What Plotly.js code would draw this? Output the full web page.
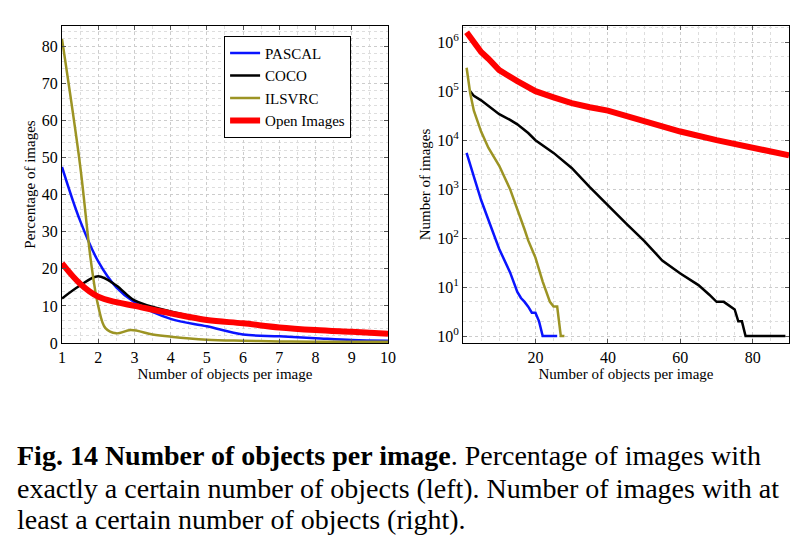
<!DOCTYPE html>
<html><head><meta charset="utf-8">
<script src="https://cdn.plot.ly/plotly-3.0.1.min.js"></script>
<style>body{margin:0;background:#fff}#c{width:809px;height:550px}</style>
</head><body><div id="c"></div>
<script>
// Left: percentage of images
const pascalX=[1,1.5,2,2.5,3,4,5,6,7,8,9,10];
const pascalY=[47.5,33,22,15,11,6.5,4.5,2.3,1.8,1.3,0.8,0.6];
const cocoX=[1,1.5,2,2.5,3,4,5,6,7,8,9,10];
const cocoY=[12,15.5,18,15.5,11.5,8.5,6.5,5.3,4.2,3.4,2.9,2.5];
const ilsX=[1,1.5,1.8,2,2.2,2.5,2.9,3.5,4,5,6,7,8,10];
const ilsY=[82,48,22,10,4,2.6,3.5,2.3,1.7,0.9,0.6,0.4,0.35,0.3];
const oiX=[1,1.5,2,2.5,3,4,5,6,7,8,9,10];
const oiY=[21.5,16,12.5,11,10,8,6.2,5.3,4.2,3.5,3,2.5];
// Right: number of images with at least N objects
const rPascalX=[1,2,3,5,7,8,10,12,13,15,16,17,18,19,20,21,22,26];
const rPascalY=[5500,3000,1800,600,250,150,60,30,20,8,6,5,4,3,3,2,1,1];
const rCocoX=[2,3,5,8,10,13,15,18,20,25,30,35,40,45,50,55,60,65,68,70,72,74,75,76,77,78,89];
const rCocoY=[100000,80000,65000,45000,34000,26000,21000,14000,10000,5500,2700,1100,460,200,88,35,19,11,7,5,5,4,3.5,2,2,1,1];
const rIlsX=[1,1.5,2,3,4,5,7,10,13,15,17,18,20,22,23,24,25,26,27,28];
const rIlsY=[300000,150000,90000,40000,24000,15000,7000,3000,1000,400,150,90,40,13,8,5,4,4,1,1];
const rOiX=[1,3,5,7,10,15,20,25,30,35,40,50,60,70,80,90];
const rOiY=[1600000,1000000,630000,460000,270000,160000,100000,75000,57000,47000,40000,24500,15000,10000,7000,4900];
const names=["PASCAL","COCO","ILSVRC","Open Images"];
const colors=["#0a14ff","#000000","#9c9424","#ff0000"];
const widths=[2.5,2.5,2.5,6];

const left=[[pascalX,pascalY],[cocoX,cocoY],[ilsX,ilsY],[oiX,oiY]];
const right=[[rPascalX,rPascalY],[rCocoX,rCocoY],[rIlsX,rIlsY],[rOiX,rOiY]];
const data=[];
left.forEach((d,i)=>data.push({x:d[0],y:d[1],mode:'lines',name:names[i],line:{color:colors[i],width:widths[i],shape:'spline'},xaxis:'x',yaxis:'y'}));
right.forEach((d,i)=>data.push({x:d[0],y:d[1],mode:'lines',showlegend:false,line:{color:colors[i],width:widths[i]},xaxis:'x2',yaxis:'y2'}));

const FAM='Liberation Serif, Times New Roman, serif';
const F={family:FAM,size:16,color:'#000'};
const ax={showline:true,mirror:'ticks',linecolor:'#000',linewidth:1,ticks:'inside',ticklen:4,tickcolor:'#555',
  gridcolor:'#ccc',griddash:'dot',zeroline:false,tickfont:F,
  minor:{showgrid:true,gridcolor:'#ddd',griddash:'dot',ticks:''}};
const TF={family:FAM,size:15,color:'#000'};
const layout={width:809,height:550,margin:{l:0,r:0,t:0,b:0},paper_bgcolor:'#fff',plot_bgcolor:'#fff',font:F,
  xaxis:Object.assign({},ax,{domain:[0.0766,0.4796],range:[1,10],dtick:1,minor:Object.assign({},ax.minor,{dtick:0.5}),
    title:{text:'Number of objects per image',font:TF,standoff:0}}),
  yaxis:Object.assign({},ax,{domain:[0.3764,0.9527],range:[0,85.5],dtick:10,minor:Object.assign({},ax.minor,{dtick:2}),
    title:{text:'Percentage of images',font:TF,standoff:2}}),
  xaxis2:Object.assign({},ax,{domain:[0.5723,0.9753],range:[0,90],tickvals:[20,40,60,80],minor:Object.assign({},ax.minor,{dtick:5}),
    anchor:'y2',title:{text:'Number of objects per image',font:TF,standoff:0}}),
  yaxis2:Object.assign({},ax,{domain:[0.3764,0.9527],type:'log',range:[-0.14,6.33],anchor:'x2',
    tickvals:[1,10,100,1000,10000,100000,1000000],
    ticktext:['10<sup>0</sup>','10<sup>1</sup>','10<sup>2</sup>','10<sup>3</sup>','10<sup>4</sup>','10<sup>5</sup>','10<sup>6</sup>'],
    title:{text:'Number of images',font:TF,standoff:2}}),
  legend:{x:0.277,y:0.935,xanchor:'left',yanchor:'top',xref:'paper',yref:'paper',bordercolor:'#000',borderwidth:1,bgcolor:'#fff',
    font:{family:FAM,size:15},tracegroupgap:0},
  annotations:[
    {xref:'paper',yref:'paper',x:0.018,y:1-455/550,xanchor:'left',yanchor:'middle',showarrow:false,align:'left',
     font:{family:FAM,size:28,color:'#000'},text:'<b>Fig. 14 Number of objects per image</b>. Percentage of images with'},
    {xref:'paper',yref:'paper',x:0.018,y:1-488/550,xanchor:'left',yanchor:'middle',showarrow:false,
     font:{family:FAM,size:28,color:'#000'},text:'exactly a certain number of objects (left). Number of images with at'},
    {xref:'paper',yref:'paper',x:0.018,y:1-519/550,xanchor:'left',yanchor:'middle',showarrow:false,
     font:{family:FAM,size:28,color:'#000'},text:'least a certain number of objects (right).'}
  ]};
Plotly.newPlot('c',data,layout,{staticPlot:true});
</script></body></html>
